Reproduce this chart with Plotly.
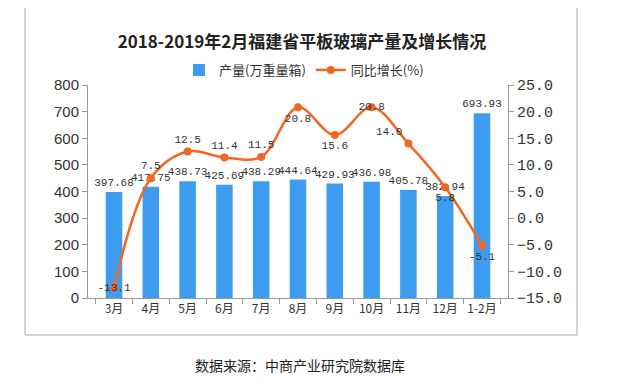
import plotly.graph_objects as go

categories = ["3月", "4月", "5月", "6月", "7月", "8月", "9月", "10月", "11月", "12月", "1-2月"]
output_values = [397.68, 417.75, 438.73, 425.69, 438.29, 444.64, 429.93, 436.98, 405.78, 382.94, 693.93]
growth_values = [-13.1, 7.5, 12.5, 11.4, 11.5, 20.8, 15.6, 20.8, 14.0, 5.8, -5.1]
left_ticks = [0, 100, 200, 300, 400, 500, 600, 700, 800]
right_ticks = [-15, -10, -5, 0, 5, 10, 15, 20, 25]

growth_label_pos = ["middle center", "top center", "top center", "top center", "top center",
                    "bottom center", "bottom center", "middle center", "top left",
                    "bottom center", "bottom center"]

BLUE = "#3d9cf0"
ORANGE = "#f26522"
MONO = "Liberation Mono, Noto Sans CJK SC, monospace"
CJK = "Noto Sans CJK SC, sans-serif"

# page offset (browser body margin)
OFF = 8
W, H = 623 - OFF, 388 - OFF
# target plot area in page pixels
PX0, PX1, PY0, PY1 = 88, 508, 85, 298
L, R, T, B = PX0 - OFF, W - (PX1 - OFF), PY0 - OFF, H - (PY1 - OFF)
pw, ph = W - L - R, H - T - B


def px(x):
    return (x - PX0) / pw


def py(y):
    return (PY1 - y) / ph


fig = go.Figure()
fig.add_trace(go.Bar(
    x=categories, y=output_values, name="产量(万重量箱)",
    marker=dict(color=BLUE, line=dict(width=0)),
    text=[f"{v:.2f}" for v in output_values], textposition="outside",
    constraintext="none",
    textfont=dict(family=MONO, size=11, color="#333"), cliponaxis=False,
))
fig.add_trace(go.Scatter(
    x=categories, y=growth_values, name="同比增长(%)", yaxis="y2",
    mode="lines+markers+text",
    line=dict(color=ORANGE, width=2.5, shape="spline", smoothing=1.0),
    marker=dict(color=ORANGE, size=8),
    text=[f"{v:.1f}" for v in growth_values], textposition=growth_label_pos,
    textfont=dict(family=MONO, size=11, color="#333"), cliponaxis=False,
))

fig.update_layout(
    width=W, height=H, margin=dict(l=L, r=R, t=T, b=B, autoexpand=False),
    paper_bgcolor="white", plot_bgcolor="white",
    bargap=0.55,
    title=dict(text="<b>2018-2019年2月福建省平板玻璃产量及增长情况</b>",
               x=(302 - OFF) / W, xanchor="center", y=1 - (42 - OFF) / H, yanchor="middle",
               font=dict(family=CJK, size=17, color="#222")),
    legend=dict(orientation="h", x=px(304), xanchor="center",
                y=py(70), yanchor="middle",
                font=dict(family=CJK, size=13, color="#333"),
                bgcolor="rgba(0,0,0,0)"),
    xaxis=dict(type="category", showgrid=False, showline=True, linecolor="#999",
               ticks="outside", tickson="boundaries", ticklen=5, tickcolor="#999",
               tickangle=0, automargin=False,
               tickfont=dict(family=CJK, size=12, color="#333")),
    yaxis=dict(range=[0, 800], tickvals=left_ticks, showgrid=False, showline=True,
               linecolor="#999", ticks="outside", ticklen=5, tickcolor="#999",
               zeroline=False, automargin=False,
               tickfont=dict(family="Liberation Sans, Arial, sans-serif", size=15, color="#333")),
    yaxis2=dict(range=[-15, 25], tickvals=right_ticks, tickformat=".1f", overlaying="y",
                side="right", showgrid=False, showline=True, linecolor="#999",
                ticks="outside", ticklen=5, tickcolor="#999", zeroline=False, automargin=False,
                tickfont=dict(family=MONO, size=15, color="#333")),
    shapes=[dict(type="rect", xref="paper", yref="paper",
                 x0=px(25), x1=px(577), y0=py(335), y1=py(OFF - 2),
                 line=dict(color="#aaa", width=1), fillcolor="rgba(0,0,0,0)", layer="below")],
    annotations=[dict(text="数据来源：中商产业研究院数据库", xref="paper", yref="paper",
                      x=px(300), y=py(365), xanchor="center", yanchor="middle",
                      showarrow=False, font=dict(family=CJK, size=14, color="#222"))],
)

fig.write_html("out.html")
